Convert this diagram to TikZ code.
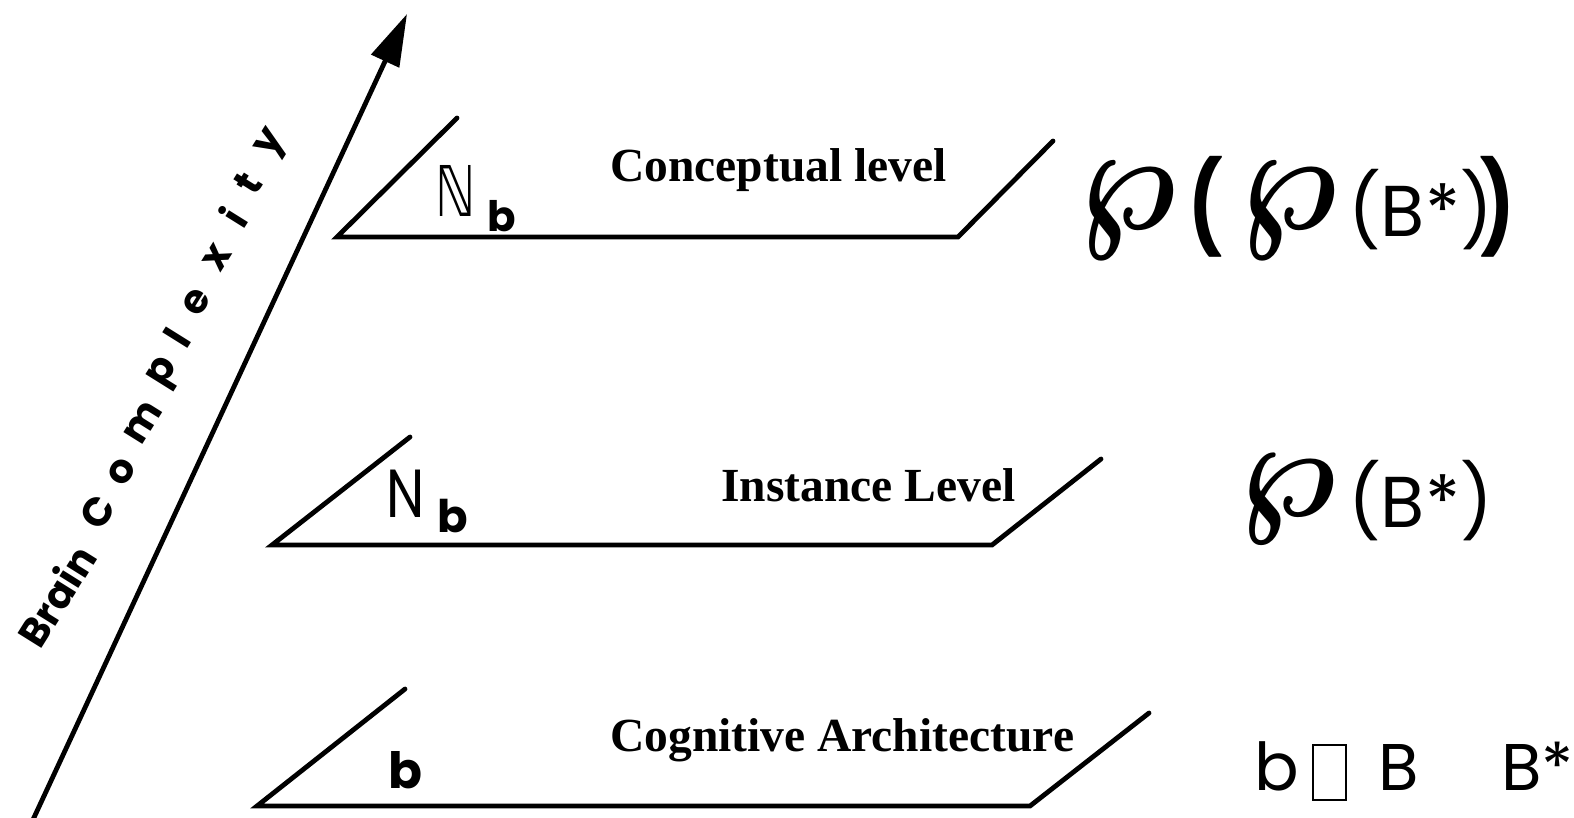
\documentclass[tikz,border=0pt]{standalone}
\usepackage{fontspec}
\usepackage{graphicx}
\usepackage{bm}
\setmainfont{Liberation Serif}
\newfontfamily\hand{Poppins}
\newfontfamily\dvs{DejaVu Sans}
\usetikzlibrary{arrows.meta}
\begin{document}
\begin{tikzpicture}[x=1pt,y=-1pt,
  plane/.style={line width=4.8pt, line cap=round, line join=miter},
  levelname/.style={inner sep=0pt, anchor=base west,
    font=\fontsize{47.5}{50}\bfseries},
  handtxt/.style={inner sep=0pt, anchor=base west},
  axisletter/.style={inner sep=0pt, anchor=center, rotate=58,
    font=\hand\bfseries\fontsize{40}{42}\selectfont},
  wpsym/.style={inner sep=0pt, anchor=base west}
]
\useasboundingbox (0,0) rectangle (1574,817);

% vertical complexity axis
\coordinate (axfoot) at (31,824);
\coordinate (axtip) at (407,14);
\draw[line width=4.8pt, -{Triangle[length=52pt,width=30pt]}] (axfoot) -- (axtip);

% axis caption: first word in one piece, second word spaced out
\node[axisletter] (capword) at (56,596) {Brain};
\foreach \ch/\px/\py [count=\k] in {C/98/512, o/122/472, m/143/423, p/166/374,
    l/177/338, e/197/302, x/217/258, i/233/217, t/248/183, y/273/145}
  \node[axisletter] (cap\k) at (\px,\py) {\ch};

% three stacked planes
\coordinate (t1) at (337,237); \coordinate (t2) at (958,237);
\coordinate (t3) at (457,118); \coordinate (t4) at (1053,141);
\draw[plane] (t3) -- (t1) -- (t2) -- (t4);

\coordinate (m1) at (272,545); \coordinate (m2) at (992,545);
\coordinate (m3) at (410,437); \coordinate (m4) at (1101,459);
\draw[plane] (m3) -- (m1) -- (m2) -- (m4);

\coordinate (b1) at (257,806); \coordinate (b2) at (1030,806);
\coordinate (b3) at (405,689); \coordinate (b4) at (1149,713);
\draw[plane] (b3) -- (b1) -- (b2) -- (b4);

% level names
\node[levelname] (lvtop) at (610,181) {Conceptual level};
\node[levelname] (lvmid) at (721,501) {Instance Level};
\node[levelname] (lvbot) at (610,751) {Cognitive Architecture};

% symbols inside the planes
\node[handtxt] (nbbb) at (435,216) {\dvs\fontsize{70}{72}\selectfont\scalebox{0.72}[1]{ℕ}};
\node[handtxt] (nbsub1) at (487,231) {\hand\bfseries\fontsize{42}{44}\selectfont b};
\node[handtxt] (nN) at (386,517) {\hand\fontsize{68}{70}\selectfont\scalebox{0.8}[1]{N}};
\node[handtxt] (nbsub2) at (437,532) {\hand\bfseries\fontsize{45}{47}\selectfont b};
\node[handtxt] (bsym) at (388,788) {\hand\bfseries\fontsize{50}{52}\selectfont b};

% power set expressions
\node[wpsym] (wp1) at (1078,229) {\scalebox{13.2}[15]{$\bm{\wp}$}};
\node[handtxt] (lp1) at (1188,238) {\hand\bfseries\fontsize{90}{90}\selectfont\scalebox{0.8}[1]{(}};
\node[wpsym] (wp2) at (1239,229) {\scalebox{13.2}[15]{$\bm{\wp}$}};
\node[handtxt] (inner1) at (1348,236) {\hand\fontsize{72}{74}\selectfont (B*)};
\node[handtxt] (rp1) at (1480,238) {\hand\bfseries\fontsize{90}{90}\selectfont\scalebox{0.8}[1]{)}};

\node[wpsym] (wp3) at (1238,516) {\scalebox{13.2}[13.8]{$\bm{\wp}$}};
\node[handtxt] (inner2) at (1348,527) {\hand\fontsize{72}{74}\selectfont (B*)};

% base element and base set
\node[handtxt] (belem) at (1254,790) {\hand\fontsize{66}{68}\selectfont b};
\node[draw, line width=1.3pt, minimum width=33pt, minimum height=55pt, inner sep=0pt]
  (glyphbox) at (1329.5,772.5) {};
\node[handtxt] (bset) at (1378,790) {\hand\fontsize{66}{68}\selectfont B};
\node[handtxt] (bstar) at (1501,790) {\hand\fontsize{66}{68}\selectfont B*};
\end{tikzpicture}
\end{document}
